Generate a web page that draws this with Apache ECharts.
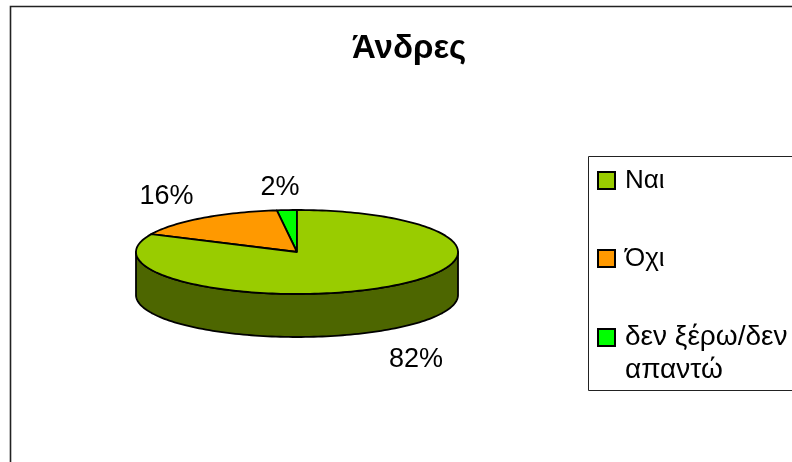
<!DOCTYPE html>
<html><head><meta charset="utf-8">
<style>html,body{margin:0;padding:0;background:#fff}#c{width:792px;height:462px}</style>
<script src="https://cdn.jsdelivr.net/npm/echarts@6/dist/echarts.min.js"></script>
</head><body><div id="c"></div>
<script>
const titleText = 'Άνδρες';
const categories = ['Ναι', 'Όχι', 'δεν ξέρω/δεν απαντώ'];
const values = [82, 16, 2];
const topColors = ['#99cc00', '#ff9900', '#00ff00'];
const sideColors = ['#4d6600', '#804d00', '#008000'];
const legendLabels = ['Ναι', 'Όχι', ' \nδεν ξέρω/δεν\nαπαντώ'];
const legendTops = [165, 243, 288];
const legendFontSizes = [26, 26, 28];
const legendLineHeights = [31, 31, 33];
const labelNudges = [[0, 3], [0, 0], [-3, 4]];

const CX = 297, CY = 252, RX = 161, RY = 42, DEPTH = 43;
const LABEL_RX = 222, LABEL_RY = 69, LABEL_DROP = 46;
const FONT = '"Liberation Sans", Arial, sans-serif';
const total = values.reduce((a, b) => a + b, 0);

// Angles run from 12 o'clock; slices are laid out clockwise.
const pt = (deg, dy) => {
  const r = deg * Math.PI / 180;
  return [CX + RX * Math.sin(r), CY - RY * Math.cos(r) + (dy || 0)];
};
const arc = (a, b, dy) => {
  const out = [], n = Math.max(2, Math.ceil(Math.abs(b - a) / 1.5));
  for (let i = 0; i <= n; i++) out.push(pt(a + (b - a) * i / n, dy));
  return out;
};

function renderSlice(idx) {
  return function (params, api) {
    const v = api.value(0);
    let before = 0;
    for (let i = 0; i < idx; i++) before += values[i];
    const start = before / total * 360, end = (before + v) / total * 360;
    const style = { stroke: '#000', lineWidth: 1.8, lineJoin: 'round' };
    const children = [];
    const s = Math.max(start, 90), e = Math.min(end, 270);
    if (e > s) {
      children.push({
        type: 'polygon',
        shape: { points: arc(s, e, 0).concat(arc(e, s, DEPTH)) },
        style: Object.assign({ fill: sideColors[idx] }, style)
      });
    }
    children.push({
      type: 'polygon',
      shape: { points: [[CX, CY]].concat(arc(start, end, 0)) },
      style: Object.assign({ fill: topColors[idx] }, style)
    });
    const mid = (start + end) / 2 * Math.PI / 180;
    const cos = Math.cos(mid);
    children.push({
      type: 'text',
      style: {
        x: CX + LABEL_RX * Math.sin(mid) + labelNudges[idx][0],
        y: CY - LABEL_RY * cos + (cos < 0 ? LABEL_DROP : 0) + labelNudges[idx][1],
        text: v + '%', fill: '#000', font: '27px ' + FONT,
        align: 'center', verticalAlign: 'middle'
      }
    });
    return { type: 'group', children };
  };
}

const chart = echarts.init(document.getElementById('c'), null, { renderer: 'canvas' });
chart.setOption({
  animation: false,
  backgroundColor: '#fff',
  title: {
    text: titleText, left: 347, top: 27,
    textStyle: { fontFamily: FONT, fontSize: 33, fontWeight: 'bold', color: '#000' }
  },
  legend: categories.map((name, i) => ({
    data: [name], icon: 'rect', orient: 'vertical',
    left: 597, top: legendTops[i], padding: 0,
    itemWidth: 17, itemHeight: 17, itemGap: 0,
    selectedMode: false,
    itemStyle: { borderColor: '#000', borderWidth: 2 },
    formatter: () => legendLabels[i],
    textStyle: { fontFamily: FONT, fontSize: legendFontSizes[i], color: '#000', lineHeight: legendLineHeights[i], padding: [0, 0, 0, 5] }
  })),
  graphic: [
    { type: 'polyline', silent: true, shape: { points: [[10.5, 470], [10.5, 6.5], [800, 6.5]] },
      style: { stroke: '#222', lineWidth: 1.6, fill: null } },
    { type: 'rect', silent: true, shape: { x: 588.5, y: 156.5, width: 230, height: 234 },
      style: { stroke: '#222', lineWidth: 1, fill: '#fff' }, z: -1 }
  ],
  series: categories.map((name, i) => ({
    type: 'custom', name, coordinateSystem: 'none',
    itemStyle: { color: topColors[i] },
    data: [[values[i]]],
    clip: false,
    z: 5 - i,
    renderItem: renderSlice(i)
  }))
});
</script></body></html>
